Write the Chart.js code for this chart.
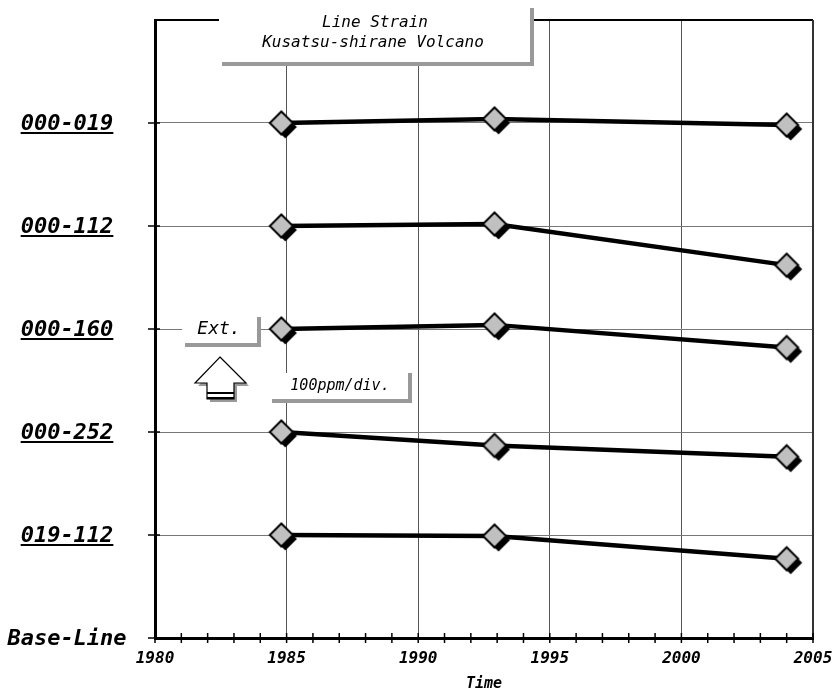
<!DOCTYPE html>
<html>
<head>
<meta charset="utf-8">
<script src="https://cdn.jsdelivr.net/npm/chart.js@4.4.0/dist/chart.umd.min.js"></script>
<style>
  html, body { margin: 0; padding: 0; background: #fff; }
  #wrap { width: 836px; height: 693px; }
</style>
</head>
<body>
<div id="wrap"><canvas id="strainChart"></canvas></div>
<script>
// datos
const years = [1984.8, 1992.9, 2004.0];
const baseLabels = ['Base-Line', '019-112', '000-252', '000-160', '000-112', '000-019'];
const line000_019 = [5.00, 5.04, 4.98];
const line000_112 = [4.00, 4.02, 3.62];
const line000_160 = [3.00, 3.04, 2.82];
const line000_252 = [2.00, 1.87, 1.76];
const line019_112 = [1.00, 0.99, 0.77];

const MONO = '"DejaVu Sans Mono", "Liberation Mono", monospace';

// marcador: rombo gris con sombra negra
function makeDiamond() {
    const c = document.createElement('canvas');
    c.width = 40; c.height = 40;
    const g = c.getContext('2d');
    const r = 11.5, cx = 20, cy = 20, off = 4;
    const path = (x, y) => {
        g.beginPath();
        g.moveTo(x, y - r); g.lineTo(x + r, y); g.lineTo(x, y + r); g.lineTo(x - r, y);
        g.closePath();
    };
    g.fillStyle = '#000';
    path(cx + off, cy + off); g.fill();
    g.fillStyle = '#c0c0c0'; g.strokeStyle = '#000'; g.lineWidth = 2;
    path(cx, cy); g.fill(); g.stroke();
    return c;
}
const marker = makeDiamond();

function serie(label, values) {
    return {
        label: label,
        data: years.map((x, i) => ({ x: x, y: values[i] })),
        borderColor: '#000',
        borderWidth: 4.5,
        pointStyle: marker,
        pointRadius: 12,
        fill: false,
        tension: 0
    };
}

function shadowBox(ctx, x, y, w, h) {
    ctx.fillStyle = '#fff';
    ctx.fillRect(x, y, w, h);
    ctx.fillStyle = '#999';
    ctx.fillRect(x + w - 1, y, 4, h + 4);
    ctx.fillRect(x + 3, y + h, w, 4);
}

const decoPlugin = {
    id: 'deco',
    afterDraw(chart) {
        const ctx = chart.ctx;
        const a = chart.chartArea;
        const xs = chart.scales.x, ys = chart.scales.y;
        ctx.save();

        // marco superior y derecho
        ctx.strokeStyle = '#000';
        ctx.lineWidth = 2;
        ctx.beginPath();
        ctx.moveTo(a.left, a.top); ctx.lineTo(a.right, a.top);
        ctx.stroke();
        ctx.strokeStyle = '#333';
        ctx.beginPath();
        ctx.moveTo(a.right, a.top); ctx.lineTo(a.right, a.bottom);
        ctx.stroke();

        // marcas del eje X (cada año)
        ctx.strokeStyle = '#000';
        ctx.lineWidth = 1.5;
        for (let v = 1980; v <= 2005; v++) {
            const px = xs.getPixelForValue(v);
            ctx.beginPath();
            ctx.moveTo(px, a.bottom - 5); ctx.lineTo(px, a.bottom + 5);
            ctx.stroke();
        }
        // marcas del eje Y y etiquetas
        ctx.font = 'italic bold 22px ' + MONO;
        ctx.textAlign = 'center';
        ctx.textBaseline = 'middle';
        ctx.fillStyle = '#000';
        baseLabels.forEach((lab, i) => {
            const py = ys.getPixelForValue(i);
            ctx.lineWidth = 1.5;
            ctx.beginPath();
            ctx.moveTo(a.left - 7, py); ctx.lineTo(a.left + 5, py);
            ctx.stroke();
            ctx.fillText(lab, 67, py + 1);
            if (i > 0) {
                const w = ctx.measureText(lab).width;
                ctx.lineWidth = 2;
                ctx.beginPath();
                ctx.moveTo(67 - w / 2, py + 10); ctx.lineTo(67 + w / 2, py + 10);
                ctx.stroke();
            }
        });

        // cuadro del titulo
        shadowBox(ctx, 219, 8, 312, 54);
        ctx.fillStyle = '#000';
        ctx.font = 'italic 16px ' + MONO;
        ctx.fillText('Line Strain', 375, 23);
        ctx.fillText('Kusatsu-shirane Volcano', 373, 43);

        // cuadro "Ext."
        shadowBox(ctx, 182, 317, 76, 26);
        ctx.fillStyle = '#000';
        ctx.font = 'italic 18px ' + MONO;
        ctx.fillText('Ext.', 219, 329);

        // flecha
        const arrow = (dx, dy) => {
            ctx.beginPath();
            ctx.moveTo(220 + dx, 357 + dy);
            ctx.lineTo(246 + dx, 383 + dy);
            ctx.lineTo(234 + dx, 383 + dy);
            ctx.lineTo(234 + dx, 399 + dy);
            ctx.lineTo(207 + dx, 399 + dy);
            ctx.lineTo(207 + dx, 383 + dy);
            ctx.lineTo(195 + dx, 383 + dy);
            ctx.closePath();
        };
        ctx.fillStyle = '#999';
        arrow(3, 3); ctx.fill();
        ctx.fillStyle = '#fff';
        ctx.strokeStyle = '#000';
        ctx.lineWidth = 1.2;
        arrow(0, 0); ctx.fill(); ctx.stroke();
        ctx.lineWidth = 2;
        ctx.beginPath();
        ctx.moveTo(207, 393); ctx.lineTo(234, 393);
        ctx.moveTo(207, 398); ctx.lineTo(234, 398);
        ctx.stroke();

        // cuadro "100ppm/div."
        shadowBox(ctx, 269, 373, 140, 26);
        ctx.fillStyle = '#000';
        ctx.font = 'italic 15px ' + MONO;
        ctx.fillText('100ppm/div.', 340, 386);

        ctx.restore();
    }
};

const ctx = document.getElementById('strainChart').getContext('2d');
new Chart(ctx, {
    type: 'line',
    data: {
        datasets: [
            serie('000-019', line000_019),
            serie('000-112', line000_112),
            serie('000-160', line000_160),
            serie('000-252', line000_252),
            serie('019-112', line019_112)
        ]
    },
    options: {
        responsive: true,
        maintainAspectRatio: false,
        animation: false,
        layout: { padding: { top: 20, right: 23, left: 0, bottom: 0 } },
        plugins: {
            legend: { display: false },
            tooltip: { enabled: false }
        },
        scales: {
            x: {
                type: 'linear',
                min: 1980,
                max: 2005,
                afterBuildTicks: s => {
                    const t = [];
                    for (let v = 1980; v <= 2005; v++) t.push({ value: v });
                    s.ticks = t;
                },
                afterFit: s => { s.height = 55; s.paddingRight = 0; s.paddingLeft = 0; },
                grid: {
                    drawTicks: false,
                    color: c => (c.tick && c.tick.value % 5 === 0 && c.tick.value > 1980 && c.tick.value < 2005) ? '#555' : 'transparent',
                    lineWidth: 1
                },
                border: { color: '#000', width: 3 },
                ticks: {
                    autoSkip: false,
                    maxRotation: 0,
                    padding: 11,
                    color: '#000',
                    font: { family: MONO, size: 16, style: 'italic', weight: 'bold' },
                    callback: v => (v % 5 === 0 ? String(v) : '')
                },
                title: {
                    display: true,
                    text: 'Time',
                    color: '#000',
                    padding: { top: 0, bottom: 0 },
                    font: { family: MONO, size: 15, style: 'italic', weight: 'bold' }
                }
            },
            y: {
                type: 'linear',
                min: 0,
                max: 6,
                afterBuildTicks: s => {
                    s.ticks = [0, 1, 2, 3, 4, 5, 6].map(v => ({ value: v }));
                },
                afterFit: s => { s.width = 155; },
                grid: {
                    drawTicks: false,
                    color: c => (c.tick && c.tick.value > 0 && c.tick.value < 6) ? '#777' : 'transparent',
                    lineWidth: 1
                },
                border: { color: '#000', width: 3 },
                ticks: { display: false }
            }
        }
    },
    plugins: [decoPlugin]
});
</script>
</body>
</html>
